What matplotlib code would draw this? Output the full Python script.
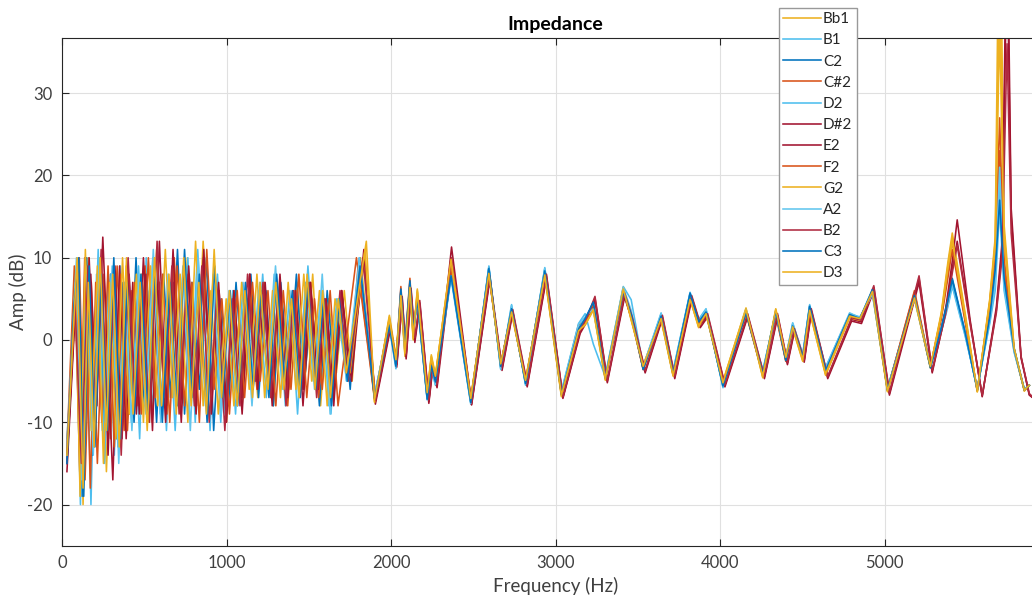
import matplotlib
matplotlib.use("Agg")
import matplotlib.pyplot as plt

# ---------------- data ----------------
NOTES = ["Bb1", "B1", "C2", "C#2", "D2", "D#2", "E2", "F2", "G2", "A2", "B2", "C3", "D3"]

# shared frequency positions of the extrema above ~1.9 kHz
HI_F = [1900, 1990, 2030, 2060, 2085, 2115, 2135, 2160, 2220, 2245, 2270, 2365, 2485, 2595, 2667,
        2733, 2818, 2935, 3036, 3140, 3180, 3230, 3303, 3412, 3460, 3533, 3642, 3715, 3818, 3870,
        3915, 4018, 4158, 4260, 4339, 4400, 4442, 4503, 4545, 4642, 4788, 4850, 4927, 5018, 5182,
        5279, 5345, 5385, 5412, 5490, 5564, 5640, 5673, 5700, 5727, 5788, 5850, 5880]
HI_F_RED = [1905, 1995, 2035, 2068, 2092, 2122, 2145, 2175, 2230, 2252, 2280, 2368, 2490, 2600, 2675,
            2740, 2828, 2945, 3045, 3150, 3190, 3240, 3315, 3420, 3468, 3545, 3650, 3725, 3828, 3880,
            3925, 4030, 4168, 4270, 4350, 4410, 4452, 4512, 4555, 4655, 4800, 4860, 4935, 5030, 5210,
            5290, 5370, 5415, 5442, 5520, 5594, 5680, 5715, 5745, 5770, 5830, 5880, 5900]

# Bb1
LO_F_BB1 = [30, 78, 98, 128, 160, 195, 232, 270, 310, 350, 392, 438, 482, 528, 575, 622, 668, 715, 762, 810,
            858, 905, 952, 1000, 1048, 1095, 1142, 1190, 1238, 1285, 1332, 1380, 1428, 1476, 1524, 1572,
            1620, 1668, 1716, 1764, 1815]
LO_A_BB1 = [-14, 3, 8, -20, 10, -12, 9, -16, 6, -13, 10, -9, 8, -10, 11, -8, 7, -6, 10, -9,
            12, -5, 6, -10, 4, -8, 6, -7, 5, -8, 6, -6, 7, -5, 8, -8, 5, -4, 6, -5, 10]
HI_A_BB1 = [-7.5, 3, -2, 5, -2, 6, 0, 6, -6.5, -2, -4.5, 10, -7, 8, -3, 3.5, -5, 8, -6.8, 1,
            2, 3.8, -4.8, 6.3, 2.5, -3, 2.5, -4.2, 5, 1.5, 3.3, -5, 3.8, -4.5, 3.6, -2, 1.5, -2.5, 3.5, -4.2,
            2.8, 2.5, 5.8, -6.2, 5, -3.3, 3.3, 9.4, 13, 3.3, -6.3, 5, 12.5, 60, 14, -1, -6.2, -5.5]
# B1
LO_F_B1 = [30, 85, 118, 140, 176, 210, 245, 282, 318, 355, 395, 432, 472, 512, 552, 592, 635, 678, 722, 765,
           810, 855, 900, 945, 992, 1038, 1085, 1130, 1175, 1220, 1265, 1312, 1358, 1405, 1450, 1495, 1540,
           1588, 1635, 1680, 1735, 1810]
LO_A_B1 = [-12, 6, -18, 10, -20, 8, -11, 7, -14, 9, -10, 6, -12, 10, -9, 7, -11, 9, -7, 10,
           -10, 9, -11, 8, -9, 6, -7, 5, -5, 8, -6, 5, -8, 6, -6, 9, -4, 6, -9, 5, -5, 9]
HI_A_B1 = [-6.5, 1.5, -3.5, 5.5, -1.5, 6.5, 1, 4.5, -7.2, -3.5, -5.5, 7.5, -7.8, 9, -3.5, 4.3, -5.5, 8.8, -6.3, 2,
           3.2, -0.5, -4.5, 6.5, 4.9, -3.2, 3.2, -3.8, 5.8, 2.5, 3.8, -5.8, 3.6, -3.8, 3.2, -2.2, 2, -1.8, 4.3, -3.3,
           3.2, 2.8, 5.5, -5.8, 5, -3, 1, 4, 6.5, 0.5, -5.8, 2, 6, 16, 6, -1.5, -6, -5.5]
# C2
LO_F_C2 = [30, 90, 122, 150, 185, 222, 258, 295, 332, 370, 410, 450, 490, 532, 575, 618, 660, 702, 745, 790,
           835, 878, 922, 968, 1012, 1058, 1102, 1148, 1195, 1240, 1285, 1330, 1378, 1425, 1470, 1518, 1565,
           1612, 1658, 1705, 1752, 1808]
LO_A_C2 = [-15, 9, -19, 10, -14, 9, -10, 8, -12, 7, -9, 10, -8, 6, -10, 8, -7, 11, -9, 7,
           -6, 10, -11, 5, -8, 7, -6, 8, -7, 6, -8, 7, -5, 8, -6, 5, -8, 6, -5, 5, -6, 10]
HI_A_C2 = [-7, 2, -3, 6, -1, 7, 1, 5, -7, -3, -5, 8, -7.5, 8.8, -3.3, 3.9, -5.2, 8.5, -6.5, 1.5,
           2.5, 4.5, -4.5, 6, 3, -3.5, 3, -4, 5.5, 2, 3.5, -5.5, 3.4, -4, 3.4, -2.4, 1.8, -2, 4, -3.6,
           3, 2.5, 6, -6, 5.5, -3.3, 1.5, 5, 7.5, 1, -6, 3, 9, 18, 8, -1, -6, -5.5]
# C#2
LO_F_CS2 = [30, 70, 105, 140, 178, 215, 255, 295, 335, 378, 420, 462, 505, 548, 592, 638, 682, 728, 772, 818,
            862, 908, 955, 1000, 1045, 1092, 1138, 1185, 1230, 1278, 1325, 1372, 1418, 1465, 1512, 1560,
            1605, 1652, 1700, 1748, 1800]
LO_A_CS2 = [-13, 2, 10, -17, 7, -15, 8, -12, 9, -11, 6, -8, 9, -10, 7, -9, 10, -6, 8, -8,
            9, -7, 5, -8, 6, -7, 5, -6, 7, -7, 5, -8, 6, -5, 7, -7, 4, -5, 6, -4, 9]
HI_A_CS2 = [-7, 2.5, -2.5, 6.5, -0.5, 7.5, 1.5, 5, -6.8, -2.5, -4.5, 9, -7.2, 8.3, -3, 3.6, -5, 8.2, -6.6, 1.8,
            2.2, 4.2, -4.6, 5.8, 2.8, -3.6, 2.8, -4.3, 5.2, 2.2, 3.2, -5.2, 3.2, -4.2, 3, -2.6, 1.6, -2.2, 3.8, -3.8,
            2.9, 2.3, 6.1, -6.1, 6, -3.2, 2.8, 8, 12, 2.5, -6.2, 4.5, 11, 23, 10, -1.2, -6.1, -5.5]
# D2
LO_F_D2 = [30, 80, 112, 145, 182, 220, 258, 298, 340, 380, 422, 465, 508, 552, 598, 642, 688, 735, 780, 825,
           872, 918, 965, 1010, 1055, 1100, 1148, 1195, 1242, 1290, 1338, 1385, 1432, 1480, 1528, 1575,
           1622, 1670, 1730, 1812]
LO_A_D2 = [-14, 8, -20, 9, -12, 11, -15, 8, -13, 7, -10, 9, -8, 10, -9, 6, -11, 8, -7, 11,
           -8, 7, -10, 5, -9, 7, -6, 6, -7, 8, -6, 6, -9, 7, -5, 6, -8, 5, -5, 9]
HI_A_D2 = [-6.8, 2, -3, 6, -1, 6.8, 0.5, 5.2, -7, -3.2, -5.2, 8, -7.6, 8.6, -3.4, 4, -5.3, 8.6, -6.4, 1.6,
           2.4, 4.4, -4.4, 6.2, 3.2, -3.4, 3.1, -3.9, 5.6, 2.1, 3.6, -5.6, 3.5, -3.9, 3.5, -2.3, 1.9, -1.9, 4.1, -3.5,
           3.1, 2.6, 6.2, -6, 5.3, -3.2, 1.2, 4.5, 7, 0.8, -6, 2.5, 7.5, 19, 7, -1.3, -6, -5.5]
# D#2
LO_F_DS2 = [30, 95, 135, 175, 212, 248, 309, 350, 390, 430, 470, 510, 550, 592, 635, 680, 725, 770, 818, 862,
            908, 955, 1000, 1048, 1095, 1142, 1190, 1235, 1280, 1325, 1372, 1420, 1465, 1512, 1560, 1605,
            1652, 1700, 1750, 1840]
LO_A_DS2 = [-16, 9, -13, 8, -8, 12.5, -17, 9, -12, 7, -9, 8, -11, 12, -8, 7, -10, 9, -7, 11,
            -9, 6, -8, 5, -9, 8, -6, 7, -7, 8, -6, 6, -8, 6, -5, 5, -7, 6, -4, 10]
HI_A_DS2 = [-7.5, 1.5, -3, 5, -2, 6, 0, 4.5, -7.5, -3.5, -5.5, 11.3, -7.8, 7.5, -3.5, 3.5, -5.5, 7.8, -7, 1,
            2.5, 5.1, -5, 5.5, 2.5, -3.8, 2.8, -4.5, 5.2, 1.8, 3, -5.5, 3, -4.5, 3, -2.8, 1.2, -2.5, 3.6, -4.5,
            2.5, 2.2, 6.4, -6.5, 7.5, -3.8, 3.5, 10, 14.6, 2.5, -6.9, 4, 12, 55, 16, -2, -6.7, -7]
# E2
LO_F_E2 = [30, 88, 125, 165, 205, 240, 280, 322, 365, 408, 452, 495, 540, 585, 630, 675, 722, 768, 815, 860,
           905, 952, 1000, 1045, 1092, 1140, 1185, 1232, 1278, 1325, 1372, 1418, 1465, 1510, 1558, 1605,
           1652, 1700, 1760, 1835]
LO_A_E2 = [-15, 7, -17, 10, -10, 8, -14, 9, -12, 8, -9, 10, -7, 6, -10, 11, -8, 8, -9, 10,
           -6, 7, -10, 6, -7, 8, -5, 6, -8, 7, -7, 5, -6, 7, -6, 5, -8, 6, -5, 11]
HI_A_E2 = [-7.8, 1.2, -3.3, 4.6, -2.3, 5.6, -0.3, 4.2, -7.7, -3.8, -5.8, 9, -7.9, 7.2, -3.7, 3.3, -5.7, 7.5, -7.1, 0.8,
           2.2, 4.8, -5.2, 5.2, 2.2, -4, 2.6, -4.7, 4.9, 1.5, 2.8, -5.7, 2.8, -4.7, 2.8, -3, 1, -2.7, 3.3, -4.7,
           2.3, 2, 6, -6.7, 7, -4, 3.2, 9, 12, 2.2, -6.8, 3.6, 11, 48, 15, -2.2, -6.6, -7]
# F2
LO_F_F2 = [30, 75, 108, 138, 172, 205, 242, 280, 318, 358, 398, 440, 482, 525, 568, 612, 655, 700, 745, 790,
           835, 880, 925, 972, 1018, 1065, 1110, 1158, 1205, 1252, 1300, 1345, 1392, 1440, 1488, 1535,
           1582, 1630, 1678, 1790]
LO_A_F2 = [-13, 9, -16, 10, -18, 7, -10, 9, -13, 8, -11, 7, -9, 10, -7, 8, -10, 9, -8, 7,
           -10, 11, -6, 5, -9, 6, -7, 7, -5, 6, -8, 6, -6, 8, -7, 5, -6, 6, -8, 10]
HI_A_F2 = [-7.2, 2.2, -2.8, 5.8, -1.2, 6.6, 0.8, 5.4, -7.1, -2.8, -4.8, 8.5, -7.4, 8.4, -3.2, 3.7, -5.1, 8.3, -6.5, 1.4,
           2.3, 4.3, -4.7, 6.1, 2.9, -3.5, 2.9, -4.1, 5.3, 1.9, 3.4, -5.4, 3.3, -4.1, 3.3, -2.5, 1.7, -2.1, 3.9, -3.7,
           3, 2.4, 5.9, -6, 5.8, -3.3, 2.5, 7.5, 11, 2.2, -6.1, 4, 10, 27, 9, -1.2, -6.1, -5.5]
# G2
LO_F_G2 = [30, 82, 110, 142, 178, 215, 252, 290, 328, 368, 410, 452, 495, 538, 582, 628, 672, 718, 765, 812,
           858, 905, 950, 998, 1045, 1092, 1138, 1185, 1232, 1280, 1328, 1375, 1422, 1470, 1518, 1565,
           1612, 1660, 1750, 1842]
LO_A_G2 = [-14, 7, -19, 11, -11, 9, -15, 7, -12, 10, -9, 8, -10, 9, -8, 11, -7, 8, -10, 12,
           -8, 6, -9, 5, -8, 7, -6, 8, -7, 6, -7, 7, -6, 8, -5, 6, -8, 5, -4, 11]
HI_A_G2 = [-7.6, 2.8, -2.2, 5.2, -1.8, 6.2, 0.2, 6.2, -6.6, -1.8, -4.2, 9.5, -7.2, 8.2, -2.8, 3.2, -4.8, 7.8, -6.9, 1.2,
           1.8, 3.6, -4.9, 6.4, 2.4, -3.1, 2.4, -4.4, 5.1, 1.6, 3.1, -5.1, 3.9, -4.6, 3.7, -1.9, 1.4, -2.6, 3.4, -4.3,
           2.7, 2.4, 5.7, -6.3, 5.2, -3.4, 3.1, 9, 12.5, 3, -6.3, 4.8, 12, 45, 13, -1.1, -6.2, -5.5]
# A2
LO_F_A2 = [30, 88, 120, 155, 190, 228, 265, 305, 345, 385, 425, 468, 510, 555, 600, 645, 690, 735, 780, 828,
           875, 920, 968, 1015, 1062, 1108, 1155, 1202, 1250, 1298, 1345, 1392, 1440, 1488, 1535, 1582,
           1630, 1678, 1730, 1808]
LO_A_A2 = [-13, 10, -17, 8, -14, 10, -10, 9, -15, 6, -11, 8, -9, 11, -10, 8, -8, 9, -11, 10,
           -7, 8, -9, 6, -7, 6, -8, 7, -5, 9, -6, 5, -7, 6, -6, 8, -9, 5, -5, 10]
HI_A_A2 = [-6.6, 1.8, -3.3, 5.6, -1.3, 6.4, 1.2, 4.8, -7.3, -3.4, -5.4, 7.8, -7.7, 8.9, -3.6, 4.2, -5.4, 8.7, -6.2, 1.9,
           2.8, 3.8, -4.3, 6.4, 3.6, -3.3, 3.3, -3.7, 5.7, 2.3, 3.7, -5.7, 3.7, -3.7, 3.3, -2.1, 2.1, -1.7, 4.2, -3.4,
           3.3, 2.7, 5.6, -5.9, 5.1, -3.1, 1.3, 4.2, 6.8, 0.6, -5.9, 2.3, 7, 21, 6.5, -1.4, -6, -5.5]
# B2
LO_F_B2 = [30, 78, 118, 158, 198, 238, 278, 318, 360, 402, 445, 488, 532, 578, 622, 668, 712, 758, 805, 850,
           895, 942, 990, 1035, 1082, 1128, 1175, 1222, 1268, 1315, 1362, 1408, 1455, 1502, 1548, 1595,
           1642, 1690, 1740, 1830]
LO_A_B2 = [-14, 5, -15, 9, -12, 11, -10, 8, -14, 10, -8, 7, -10, 12, -7, 9, -9, 7, -8, 9,
           -10, 6, -11, 5, -8, 8, -5, 7, -7, 6, -8, 6, -6, 7, -7, 5, -6, 6, -5, 10]
HI_A_B2 = [-7.3, 1.8, -2.8, 5.3, -1.8, 6.3, 0.3, 4.8, -7.3, -3.3, -5.3, 10, -7.6, 7.8, -3.3, 3.7, -5.3, 8, -6.9, 1.2,
           2.7, 5.3, -4.9, 5.7, 2.7, -3.7, 3, -4.4, 5.4, 2, 3.2, -5.4, 3.2, -4.4, 3.2, -2.7, 1.4, -2.4, 3.8, -4.4,
           2.7, 2.4, 6.6, -6.4, 7.8, -3.7, 3, 8.5, 11.5, 2, -6.7, 3.3, 10, 36, 13, -2, -6.5, -6.9]
# C3
LO_F_C3 = [30, 72, 102, 132, 165, 200, 238, 275, 315, 355, 396, 438, 480, 522, 565, 610, 655, 700, 745, 790,
           835, 882, 928, 975, 1022, 1068, 1115, 1162, 1210, 1258, 1305, 1352, 1400, 1448, 1495, 1542,
           1590, 1638, 1685, 1735, 1812]
LO_A_C3 = [-15, 4, 10, -19, 9, -13, 8, -11, 10, -12, 7, -10, 8, -9, 9, -10, 7, -8, 11, -7,
           8, -10, 9, -7, 6, -8, 7, -6, 6, -7, 8, -5, 6, -7, 7, -6, 5, -8, 5, -5, 9]
HI_A_C3 = [-7.1, 1.8, -3.2, 6.2, -0.8, 7.2, 1.2, 4.8, -7.2, -3.1, -5.1, 7.8, -7.6, 8.7, -3.2, 3.8, -5.3, 8.4, -6.6, 1.3,
           2.6, 4.6, -4.6, 5.9, 3.1, -3.6, 2.9, -4.1, 5.7, 2.2, 3.4, -5.6, 3.3, -4.1, 3.5, -2.5, 1.7, -2.1, 4.1, -3.7,
           3.1, 2.6, 6.1, -6.1, 5.4, -3.4, 1.4, 4.8, 7.3, 0.9, -6.1, 2.8, 8.5, 17, 7.5, -1.1, -6.1, -5.5]
# D3
LO_F_D3 = [30, 92, 128, 160, 195, 232, 270, 308, 348, 390, 432, 475, 518, 562, 605, 650, 695, 740, 785, 832,
           878, 925, 970, 1018, 1065, 1112, 1158, 1205, 1252, 1300, 1348, 1395, 1442, 1490, 1538, 1585,
           1632, 1680, 1728, 1850]
LO_A_D3 = [-14, 10, -18, 7, -13, 10, -11, 8, -13, 9, -9, 7, -11, 10, -8, 8, -9, 10, -8, 7,
           -9, 11, -7, 6, -8, 6, -7, 7, -6, 7, -6, 5, -7, 8, -6, 6, -7, 5, -4, 12]
HI_A_D3 = [-7.3, 2.6, -2.4, 5.4, -1.6, 6.4, 0.4, 5.8, -6.4, -2.2, -4.4, 9.8, -7.1, 8.1, -2.9, 3.4, -4.9, 7.9, -6.7, 1.1,
           1.9, 3.7, -4.7, 6.2, 2.6, -3.2, 2.6, -4.3, 4.9, 1.7, 3.2, -5.2, 3.7, -4.4, 3.8, -2.1, 1.6, -2.4, 3.6, -4.1,
           2.9, 2.6, 5.9, -6.2, 5.1, -3.2, 3, 8.6, 12, 2.8, -6.2, 4.6, 11.5, 38, 12, -1, -6.1, -5.5]

X_TICKS = [0, 1000, 2000, 3000, 4000, 5000]
Y_TICKS = [-20, -10, 0, 10, 20, 30]

# ---------------- styling ----------------
YELLOW, CYAN, BLUE, ORANGE, RED = "#EDB120", "#4DBEEE", "#0072BD", "#D95319", "#A2142F"
COLORS = [YELLOW, CYAN, BLUE, ORANGE, CYAN, RED, RED, ORANGE, YELLOW, "#62C6EE", "#B02A40", BLUE, YELLOW]

LO_F = [LO_F_BB1, LO_F_B1, LO_F_C2, LO_F_CS2, LO_F_D2, LO_F_DS2, LO_F_E2, LO_F_F2, LO_F_G2, LO_F_A2, LO_F_B2, LO_F_C3, LO_F_D3]
LO_A = [LO_A_BB1, LO_A_B1, LO_A_C2, LO_A_CS2, LO_A_D2, LO_A_DS2, LO_A_E2, LO_A_F2, LO_A_G2, LO_A_A2, LO_A_B2, LO_A_C3, LO_A_D3]
HI_A = [HI_A_BB1, HI_A_B1, HI_A_C2, HI_A_CS2, HI_A_D2, HI_A_DS2, HI_A_E2, HI_A_F2, HI_A_G2, HI_A_A2, HI_A_B2, HI_A_C3, HI_A_D3]
IS_RED = [False, False, False, False, False, True, True, False, False, False, True, False, False]

plt.rcParams['font.family'] = ['Lato', 'DejaVu Sans']
plt.rcParams['axes.unicode_minus'] = False
fig = plt.figure(figsize=(10.32, 5.97), dpi=100)
ax = fig.add_axes([62 / 1032, 51.3 / 597, 987 / 1032, 507.7 / 597])

for name, lf, la, ha, red, col in zip(NOTES, LO_F, LO_A, HI_A, IS_RED, COLORS):
    hf = HI_F_RED if red else HI_F
    assert len(lf) == len(la), name
    assert len(hf) == len(ha), name
    ax.plot(list(lf) + list(hf), list(la) + list(ha), color=col, lw=1.15, label=name,
            solid_joinstyle='round')

ax.set_xlim(0, 6000)
ax.set_ylim(-25, 36.7)
ax.set_xticks(X_TICKS)
ax.set_yticks(Y_TICKS)
ax.grid(True, color="#E0E0E0", lw=0.8)
ax.set_axisbelow(True)
ax.tick_params(direction='in', length=5, colors="#262626", labelsize=12, top=True, right=True,
               width=0.8, pad=7)
for t in ax.get_xticklabels() + ax.get_yticklabels():
    t.set_color("#404040")
for s in ax.spines.values():
    s.set_color("#262626")
    s.set_linewidth(0.8)
ax.set_xlabel("Frequency (Hz)", fontsize=13.5, color="#404040", labelpad=4)
ax.set_ylabel("Amp (dB)", fontsize=13.5, color="#404040")
ax.yaxis.set_label_coords(-0.035, 0.5)
ax.set_title("Impedance", fontsize=14, fontweight='bold', color="#000000", pad=6)

leg = fig.legend(loc='upper left', bbox_to_anchor=(779 / 1032, 1 - 8 / 597), fontsize=11,
                 frameon=True, fancybox=False, framealpha=1, edgecolor="#999999",
                 handlelength=2.5, handletextpad=0.1, labelspacing=0.47, borderpad=0.28,
                 borderaxespad=0)
leg.get_frame().set_linewidth(1.0)
for t in leg.get_texts():
    t.set_color("#262626")

fig.savefig("out.png", dpi=100)
